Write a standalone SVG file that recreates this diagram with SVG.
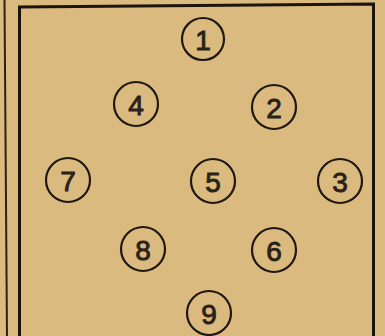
<svg xmlns="http://www.w3.org/2000/svg" width="385" height="336" viewBox="0 0 385 336">
<style>
.c{fill:none;stroke:#1e1810;stroke-width:2.2}
.t{font-family:"Liberation Sans","DejaVu Sans",sans-serif;font-size:28px;fill:#2a2218;stroke:#2a2218;stroke-width:0.9;text-anchor:middle;dominant-baseline:central}
.b{fill:none;stroke:#1a140c;stroke-width:3}
</style>
<rect width="385" height="336" fill="#dbba80"/>
<g id="frame">
<path class="b" d="M19.5,336 L19.5,7 L373.5,4 L373.5,336"/>
<path d="M4.5,0 L7,336" fill="none" stroke="#2a2218" stroke-width="2"/>
</g>
<g id="n1"><circle class="c" cx="203" cy="39" r="21"/><text class="t" x="203" y="40">1</text></g>
<g id="n2"><circle class="c" cx="274" cy="107" r="22"/><text class="t" x="274" y="108">2</text></g>
<g id="n3"><circle class="c" cx="340" cy="181" r="22"/><text class="t" x="340" y="182">3</text></g>
<g id="n4"><circle class="c" cx="136" cy="104" r="22"/><text class="t" x="136" y="105">4</text></g>
<g id="n5"><circle class="c" cx="213" cy="181" r="22"/><text class="t" x="213" y="182">5</text></g>
<g id="n6"><circle class="c" cx="274" cy="250" r="22"/><text class="t" x="274" y="251">6</text></g>
<g id="n7"><circle class="c" cx="68" cy="180" r="22"/><text class="t" x="68" y="181">7</text></g>
<g id="n8"><circle class="c" cx="143" cy="249" r="22"/><text class="t" x="143" y="250">8</text></g>
<g id="n9"><circle class="c" cx="209" cy="313" r="22"/><text class="t" x="209" y="314">9</text></g>
<g id="connectors"></g>
</svg>
